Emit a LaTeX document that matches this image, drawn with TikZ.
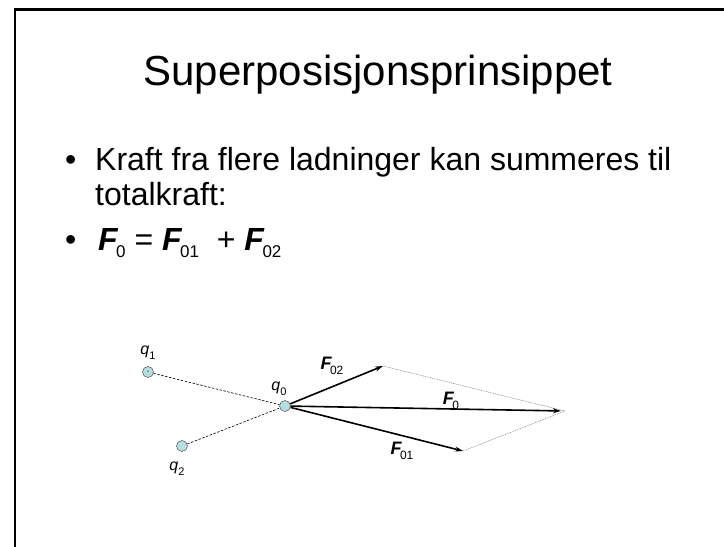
\documentclass[tikz,border=0pt]{standalone}
\usepackage{fontspec}
\setmainfont{Liberation Sans}
\usetikzlibrary{arrows.meta}
\definecolor{chargefill}{RGB}{182,222,226}
\newcommand{\vecF}[2][18]{{\bfseries\itshape F}\kern-1.5pt\raisebox{-0.24em}{\fontsize{#1}{#1}\selectfont #2}}
\newcommand{\chq}[1]{{\itshape q}\raisebox{-0.3em}{\fontsize{11}{11}\selectfont #1}}

\begin{document}
\begin{tikzpicture}[x=1pt, y=-1pt,
    charge/.style={circle, draw=black!80, fill=chargefill, inner sep=0pt, minimum size=11pt},
    qlabel/.style={font=\fontsize{16}{16}\selectfont, inner sep=0pt},
    flabel/.style={font=\fontsize{18}{18}\selectfont, inner sep=0pt},
    body/.style={anchor=base west, inner sep=0pt, font=\fontsize{32}{32}\selectfont},
    force/.style={-{Stealth[length=8pt, width=5pt]}, line width=1.6pt},
    joinline/.style={dash pattern=on 2.5pt off 1.5pt, line width=0.6pt},
    sumline/.style={gray, dash pattern=on 1pt off 0.8pt, line width=0.5pt}
  ]
  \useasboundingbox (0,0) rectangle (724,547);

  % slide frame
  \draw[line width=2.2pt] (724,9.5) -- (15.3,9.5) -- (15.3,547);

  % title and text
  \node[inner sep=0pt, anchor=base, font=\fontsize{42}{42}\selectfont] (title) at (378,85) {Superposisjonsprinsippet};
  \node[body] (dot1) at (65,170) {•};
  \node[body] (line1) at (95,170) {Kraft fra flere ladninger kan summeres til};
  \node[body] (line2) at (95,205) {totalkraft:};
  \node[body] (dot2) at (65,250) {•};
  \node[body] (sum) at (98,250) {\vecF[17]{0} = \vecF[17]{01}~ + \vecF[17]{02}};

  % charges
  \node[charge, font=\fontsize{7}{7}\selectfont] (q1) at (148,372) {-};
  \node[charge] (q0) at (285,406) {};
  \node[charge] (q2) at (182,446) {};
  \node[qlabel] (q1lbl) at (148,353) {\chq{1}};
  \node[qlabel] (q0lbl) at (279,389) {\chq{0}};
  \node[qlabel] (q2lbl) at (177,469) {\chq{2}};

  % vector tips
  \coordinate (f02) at (383,366);
  \coordinate (f01) at (463,451);
  \coordinate (apex) at (565,411);

  \draw[joinline] (q1) -- (q0);
  \draw[joinline] (q2) -- (q0);
  \draw[sumline] (f02) -- (apex);
  \draw[sumline] (f01) -- (apex);
  \draw[force] (q0) -- (f02);
  \draw[force] (q0) -- (f01);
  \draw[force, shorten >=4pt] (q0) -- (apex);

  \node[flabel] (f02lbl) at (332,366) {\vecF[12]{02}};
  \node[flabel] (f0lbl) at (451,401) {\vecF[12]{0}};
  \node[flabel] (f01lbl) at (402,451) {\vecF[12]{01}};
\end{tikzpicture}
\end{document}
